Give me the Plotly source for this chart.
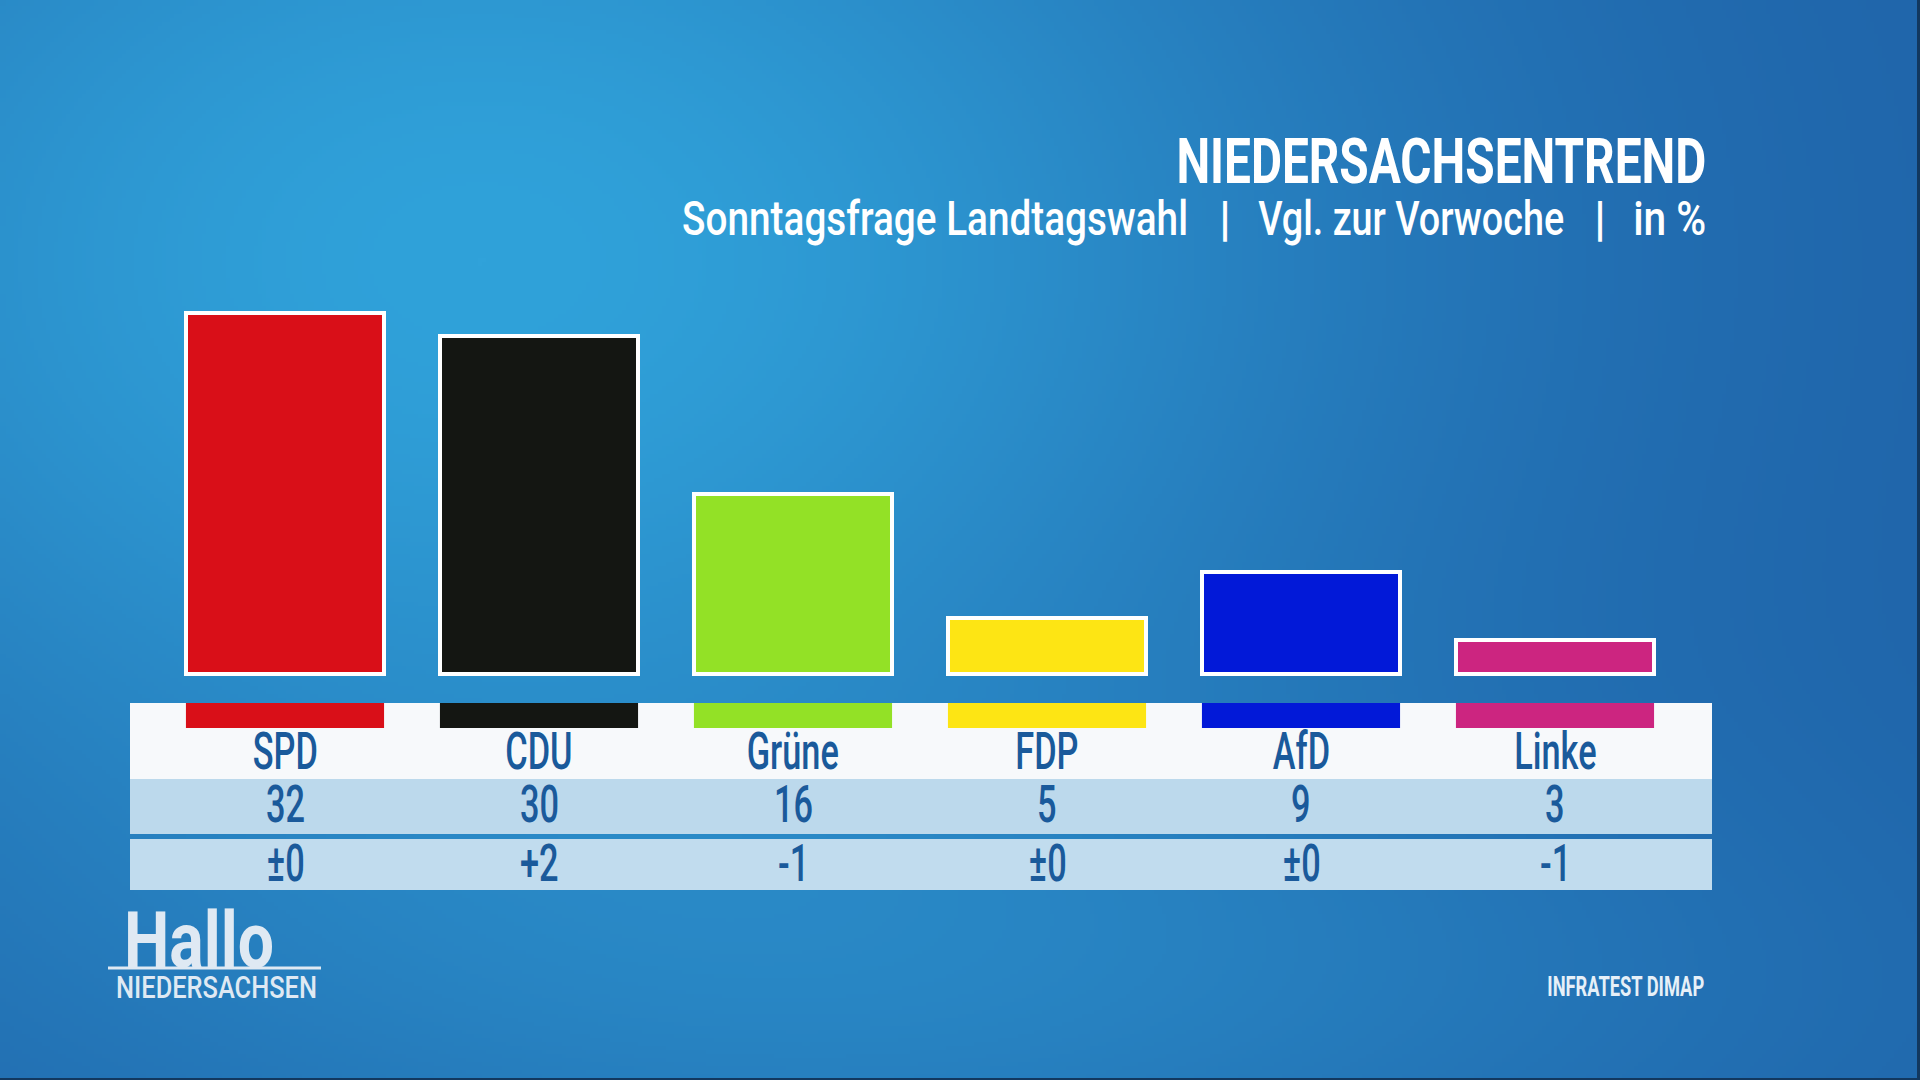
import base64, json, struct, zlib
import numpy as np
import plotly.graph_objects as go

# ---------------- data ----------------
parties = ["SPD", "CDU", "Grüne", "FDP", "AfD", "Linke"]
values = [32, 30, 16, 5, 9, 3]
changes = ["±0", "+2", "-1", "±0", "±0", "-1"]
colors = ["#d90f18", "#141612", "#93e126", "#fde514", "#0219d8", "#cc2580"]

title = "NIEDERSACHSENTREND"
subtitle_parts = ["Sonntagsfrage Landtagswahl", "|", "Vgl. zur Vorwoche", "|", "in %"]
source = "INFRATEST DIMAP"

W, H = 1920, 1080
FONT = "Roboto, Liberation Sans, sans-serif"
TXT = "#1a5a9b"


def px(x):
    return x / W


def py(y):
    return 1 - y / H


# ---------------- background gradient as PNG ----------------
def make_bg(w=480, h=270):
    xs = np.linspace(0, W, w)[None, :]
    ys = np.linspace(0, H, h)[:, None]
    t1 = np.exp(-((xs - 480) / 900) ** 2 - ((ys - 260) / 640) ** 2)
    t2 = 0.35 * np.exp(-((xs - 1000) / 900) ** 2 - ((ys - 1000) / 260) ** 2)
    t = np.clip(t1 + t2, 0, 1)
    dark = np.array([0x1f, 0x62, 0xa8], float)
    light = np.array([0x30, 0xa2, 0xda], float)
    img = dark[None, None, :] * (1 - t[..., None]) + light[None, None, :] * t[..., None]
    img = np.clip(img, 0, 255).astype(np.uint8)
    raw = b"".join(b"\x00" + img[r].tobytes() for r in range(h))

    def chunk(tag, data):
        c = struct.pack(">I", len(data)) + tag + data
        return c + struct.pack(">I", zlib.crc32(tag + data) & 0xffffffff)

    png = b"\x89PNG\r\n\x1a\n" + chunk(b"IHDR", struct.pack(">IIBBBBB", w, h, 8, 2, 0, 0, 0)) \
        + chunk(b"IDAT", zlib.compress(raw, 9)) + chunk(b"IEND", b"")
    return "data:image/png;base64," + base64.b64encode(png).decode()


fig = go.Figure()
fig.add_trace(go.Bar(
    x=parties, y=values, width=0.78,
    marker=dict(color=colors, line=dict(color="white", width=4)),
    hoverinfo="skip",
))

shapes = []
# table rows
shapes.append(dict(type="rect", xref="paper", yref="paper", x0=px(130), x1=px(1712), y0=py(779), y1=py(703),
                   fillcolor="#f7f9fb", line_width=0, layer="below"))
shapes.append(dict(type="rect", xref="paper", yref="paper", x0=px(130), x1=px(1712), y0=py(834), y1=py(779),
                   fillcolor="#bcd9ec", line_width=0, layer="below"))
shapes.append(dict(type="rect", xref="paper", yref="paper", x0=px(130), x1=px(1712), y0=py(890), y1=py(839),
                   fillcolor="#c1dcee", line_width=0, layer="below"))
# colour strips
for i, c in enumerate(colors):
    shapes.append(dict(type="rect", xref="x", yref="paper", x0=i - 0.39, x1=i + 0.39, y0=py(728), y1=py(703),
                       fillcolor=c, line_width=0, layer="below"))
# logo underline
shapes.append(dict(type="line", xref="paper", yref="paper", x0=px(108), x1=px(321), y0=py(968), y1=py(968),
                   line=dict(color="#dfe9f3", width=3)))
# thin dark frame edges
shapes.append(dict(type="rect", xref="paper", yref="paper", x0=px(1917), x1=1, y0=0, y1=1,
                   fillcolor="#12385f", line_width=0))
shapes.append(dict(type="rect", xref="paper", yref="paper", x0=0, x1=1, y0=0, y1=py(1078),
                   fillcolor="#12385f", line_width=0))

ann = []
squeeze = []  # per annotation: [mode, value, origin] -> horizontal condensing of real text


def add(a, sq):
    ann.append(a)
    squeeze.append(sq)


# table texts
for i, (p, v, ch) in enumerate(zip(parties, values, changes)):
    for txt, yy in ((p, 751), (str(v), 804), (ch, 863)):
        add(dict(x=p, xref="x", y=py(yy), yref="paper", text=txt, showarrow=False,
                 font=dict(family=FONT, size=52, color=TXT, weight=500), xanchor="center", yanchor="middle"),
            ["s", 0.66, "center"])

# title
add(dict(x=px(1708), y=py(161), xref="paper", yref="paper", text="<b>" + title + "</b>", showarrow=False,
         font=dict(family=FONT, size=63, color="white"), xanchor="right", yanchor="middle"),
    ["w", 530, "right"])
# subtitle pieces
sub_pos = [(1190, "right", 506), (1225, "center", None), (1566, "right", 306), (1600, "center", None),
           (1708, "right", 73)]
for txt, (xx, anc, tw) in zip(subtitle_parts, sub_pos):
    add(dict(x=px(xx), y=py(219), xref="paper", yref="paper", text=txt, showarrow=False,
             font=dict(family=FONT, size=48, color="white", weight=500), xanchor=anc, yanchor="middle"),
        ["w", tw, anc] if tw else None)
# logo
add(dict(x=px(122), y=py(941), xref="paper", yref="paper", text="<b>Hallo</b>", showarrow=False,
         font=dict(family=FONT, size=77, color="#dfe9f3"), xanchor="left", yanchor="middle"),
    ["w", 150, "left"])
add(dict(x=px(114), y=py(987), xref="paper", yref="paper", text="NIEDERSACHSEN", showarrow=False,
         font=dict(family=FONT, size=31, color="#dfe9f3", weight=500), xanchor="left", yanchor="middle"),
    ["w", 201, "left"])
# source
add(dict(x=px(1706), y=py(986), xref="paper", yref="paper", text="<b>" + source + "</b>", showarrow=False,
         font=dict(family=FONT, size=28, color="#e6f0f8"), xanchor="right", yanchor="middle"),
    ["w", 157, "right"])

fig.update_layout(
    width=W, height=H,
    margin=dict(l=0, r=0, t=0, b=0),
    paper_bgcolor="#2680c2", plot_bgcolor="rgba(0,0,0,0)",
    showlegend=False,
    xaxis=dict(range=[-285 / 254, (W - 285) / 254], visible=False, fixedrange=True),
    yaxis=dict(range=[-(H - 674) / 11.28, 674 / 11.28], visible=False, fixedrange=True),
    shapes=shapes, annotations=ann,
    images=[dict(source=make_bg(), xref="paper", yref="paper", x=0, y=1, sizex=1, sizey=1,
                 sizing="stretch", layer="below", xanchor="left", yanchor="top")],
    bargap=0,
)

post = """
document.body.style.margin = '0';
document.body.style.overflow = 'hidden';
var SQ = %s;
function squeezeText() {
  var gd = document.getElementById('{plot_id}');
  if (!gd) return;
  gd.querySelectorAll('g.annotation').forEach(function (g) {
    var c = SQ[+g.getAttribute('data-index')];
    if (!c) return;
    var t = g.querySelector('text.annotation-text');
    if (!t) return;
    t.style.transform = 'none';
    var w = t.getBBox().width;
    if (!w) return;
    var s = c[0] === 'w' ? c[1] / w : c[1];
    t.style.transformBox = 'fill-box';
    t.style.transformOrigin = c[2] + ' center';
    t.style.transform = 'scaleX(' + s + ')';
  });
}
squeezeText();
setTimeout(squeezeText, 50);
setTimeout(squeezeText, 400);
""" % json.dumps(squeeze)

fig.write_html("out.html", config=dict(displayModeBar=False), post_script=post)
